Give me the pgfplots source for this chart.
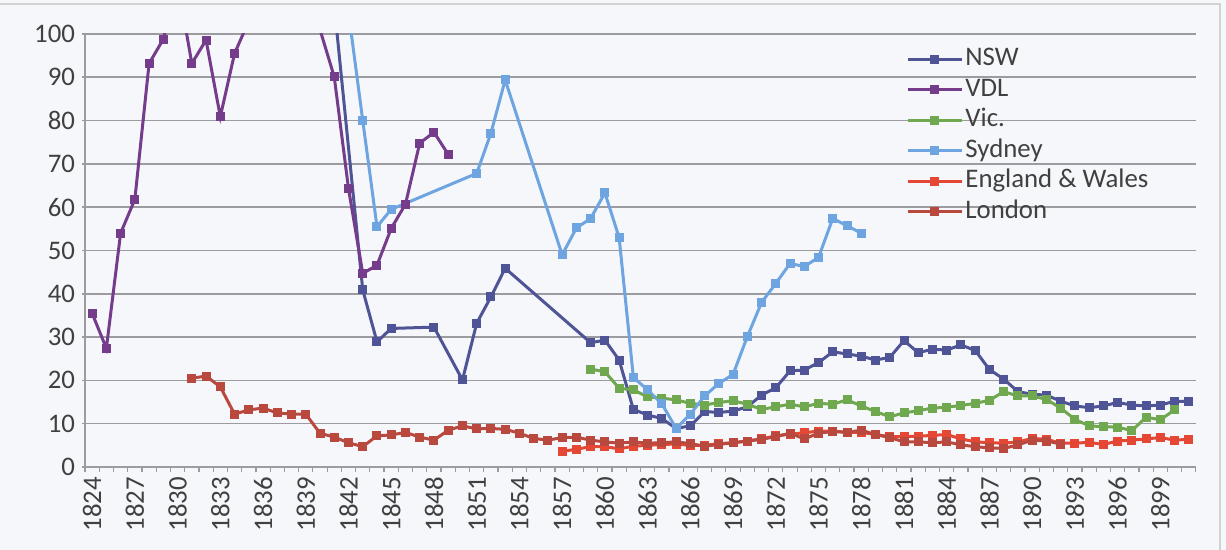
\documentclass[border=0pt]{standalone}
\usepackage{fontspec}
\setmainfont{Carlito}
\usepackage{pgfplots}
\pgfplotsset{compat=1.18}
\definecolor{cNSW}{RGB}{78,84,150}
\definecolor{cVDL}{RGB}{118,60,140}
\definecolor{cVic}{RGB}{112,168,80}
\definecolor{cSyd}{RGB}{110,165,225}
\definecolor{cEng}{RGB}{228,72,52}
\definecolor{cLon}{RGB}{185,72,62}
\definecolor{gridc}{RGB}{155,155,160}
\definecolor{txtc}{RGB}{64,64,64}
\definecolor{bgc}{RGB}{246,247,250}
\begin{document}
\begin{tikzpicture}
\path[use as bounding box, fill=bgc] (-42.5pt,-41.5pt) rectangle (570.5pt,233.5pt);
\draw[gray!35, line width=0.6pt] (-42.5pt,231.5pt) -- (567.5pt,231.5pt) -- (567.5pt,-41.5pt);
\begin{axis}[
  at={(0pt,0pt)}, anchor=south west,
  scale only axis, width=555.5pt, height=216.5pt,
  xmin=1823.5, xmax=1901.5, ymin=0, ymax=100,
  xtick={1824,1827,...,1899},
  minor xtick={1823.5,1824.5,...,1901.5},
  ytick={0,10,...,100},
  ymajorgrids,
  major grid style={draw=gridc, line width=0.8pt},
  axis lines=left,
  axis line style={-, draw=gridc, line width=0.8pt},
  tick align=outside,
  major tick length=1.5pt,
  minor tick length=2.6pt,
  major x tick style={draw=none},
  minor x tick style={draw=gridc, line width=0.6pt},
  major y tick style={draw=gridc, line width=0.8pt},
  /pgf/number format/.cd, 1000 sep={}, assume math mode=true, /pgfplots/.cd,
  ticklabel style={font=\fontsize{13.4}{15}\selectfont, text=txtc},
  xticklabel style={rotate=90, anchor=east},
  clip=true,
  every axis plot/.append style={line width=1.5pt, mark=square*, mark size=1.5pt, mark options={solid}},
  legend image code/.code={\draw[mark repeat=2,mark phase=2] plot coordinates {(0pt,0pt)(13.5pt,0pt)(27pt,0pt)};},
  legend cell align=left,
  legend style={at={(0.739,0.978)}, anchor=north west, draw=none, fill=none,
    font=\fontsize{13.4}{15}\selectfont, text=txtc, inner sep=0pt, row sep=0pt,
    nodes={inner sep=1pt, text height=10pt, text depth=3.25pt}},
]
\addplot[color=cNSW] coordinates {
(1841,106.6) (1843,40.9) (1844,28.9) (1845,32.0) (1848,32.3) (1850,20.1)
(1851,33.2) (1852,39.3) (1853,45.9) (1859,28.7) (1860,29.3) (1861,24.7) (1862,13.3)
(1863,12.0) (1864,11.2) (1865,8.9) (1866,9.5) (1867,12.8) (1868,12.6) (1869,12.9)
(1870,13.9) (1871,16.6) (1872,18.3) (1873,22.2) (1874,22.4) (1875,24.1) (1876,26.6)
(1877,26.1) (1878,25.6) (1879,24.7) (1880,25.3) (1881,29.2) (1882,26.4) (1883,27.2)
(1884,27.0) (1885,28.2) (1886,26.9) (1887,22.5) (1888,20.3) (1889,17.4) (1890,16.8)
(1891,16.6) (1892,15.2) (1893,14.1) (1894,13.7) (1895,14.1) (1896,14.9) (1897,14.3)
(1898,14.1) (1899,14.3) (1900,15.2) (1901,15.1)};
\addlegendentry{NSW}
\addplot[color=cVDL] coordinates {
(1824,35.5) (1825,27.4) (1826,54.0) (1827,61.8) (1828,93.2) (1829,98.8) (1830,112)
(1831,93.2) (1832,98.6) (1833,80.9) (1834,95.5) (1835,103) (1836,115) (1837,125)
(1838,120) (1839,112) (1840,101) (1841,90.1) (1842,64.3) (1843,44.7) (1844,46.6)
(1845,55.1) (1846,60.7) (1847,74.8) (1848,77.3) (1849,72.2)};
\addlegendentry{VDL}
\addplot[color=cVic] coordinates {
(1859,22.6) (1860,22.0) (1861,18.2) (1862,17.8) (1863,16.2) (1864,15.9) (1865,15.5)
(1866,14.7) (1867,14.3) (1868,14.9) (1869,15.3) (1870,14.5) (1871,13.3) (1872,13.9)
(1873,14.5) (1874,13.9) (1875,14.7) (1876,14.5) (1877,15.5) (1878,14.1) (1879,12.8)
(1880,11.6) (1881,12.5) (1882,13.0) (1883,13.6) (1884,13.8) (1885,14.2) (1886,14.7)
(1887,15.4) (1888,17.4) (1889,16.4) (1890,16.4) (1891,15.6) (1892,13.6) (1893,11.0)
(1894,9.5) (1895,9.3) (1896,9.2) (1897,8.4) (1898,11.5) (1899,10.9) (1900,13.2)};
\addlegendentry{Vic.}
\addplot[color=cSyd] coordinates {
(1842,105) (1843,80.0) (1844,55.5) (1845,59.5) (1851,67.8) (1852,77.1) (1853,89.4)
(1857,49.0) (1858,55.2) (1859,57.4) (1860,63.3) (1861,53.0) (1862,20.7) (1863,17.8)
(1864,14.6) (1865,8.9) (1866,12.2) (1867,16.4) (1868,19.3) (1869,21.4) (1870,30.1)
(1871,38.0) (1872,42.4) (1873,47.0) (1874,46.3) (1875,48.4) (1876,57.4) (1877,55.7)
(1878,54.0)};
\addlegendentry{Sydney}
\addplot[color=cEng] coordinates {
(1857,3.6) (1858,4.1) (1859,4.7) (1860,4.7) (1861,4.2) (1862,4.8) (1863,5.0)
(1864,5.2) (1865,5.3) (1866,5.0) (1867,5.0) (1868,5.4) (1869,5.6) (1870,6.0)
(1871,6.5) (1872,7.2) (1873,7.6) (1874,7.9) (1875,8.3) (1876,8.3) (1877,8.0)
(1878,8.0) (1879,7.5) (1880,7.0) (1881,7.0) (1882,7.1) (1883,7.3) (1884,7.5)
(1885,6.5) (1886,5.8) (1887,5.6) (1888,5.5) (1889,5.8) (1890,6.6) (1891,6.4)
(1892,5.5) (1893,5.5) (1894,5.7) (1895,5.2) (1896,6.0) (1897,6.2) (1898,6.5)
(1899,6.8) (1900,6.2) (1901,6.4)};
\addlegendentry{England \& Wales}
\addplot[color=cLon] coordinates {
(1831,20.5) (1832,21.0) (1833,18.5) (1834,12.2) (1835,13.2) (1836,13.6) (1837,12.5)
(1838,12.2) (1839,12.2) (1840,7.8) (1841,6.9) (1842,5.6) (1843,4.7) (1844,7.2)
(1845,7.4) (1846,8.0) (1847,6.9) (1848,6.2) (1849,8.5) (1850,9.5) (1851,8.8)
(1852,8.9) (1853,8.7) (1854,7.8) (1855,6.6) (1856,6.2) (1857,6.8) (1858,6.9)
(1859,6.2) (1860,5.8) (1861,5.5) (1862,5.8) (1863,5.5) (1864,5.6) (1865,5.8)
(1866,5.4) (1867,4.8) (1868,5.2) (1869,5.6) (1870,6.0) (1871,6.4) (1872,7.0)
(1873,7.8) (1874,6.5) (1875,7.8) (1876,8.2) (1877,8.0) (1878,8.5) (1879,7.5)
(1880,6.8) (1881,5.8) (1882,5.8) (1883,5.6) (1884,5.8) (1885,5.1) (1886,4.7)
(1887,4.4) (1888,4.3) (1889,5.1) (1890,6.2) (1891,6.0) (1892,5.3)};
\addlegendentry{London}
\end{axis}
\end{tikzpicture}
\end{document}
